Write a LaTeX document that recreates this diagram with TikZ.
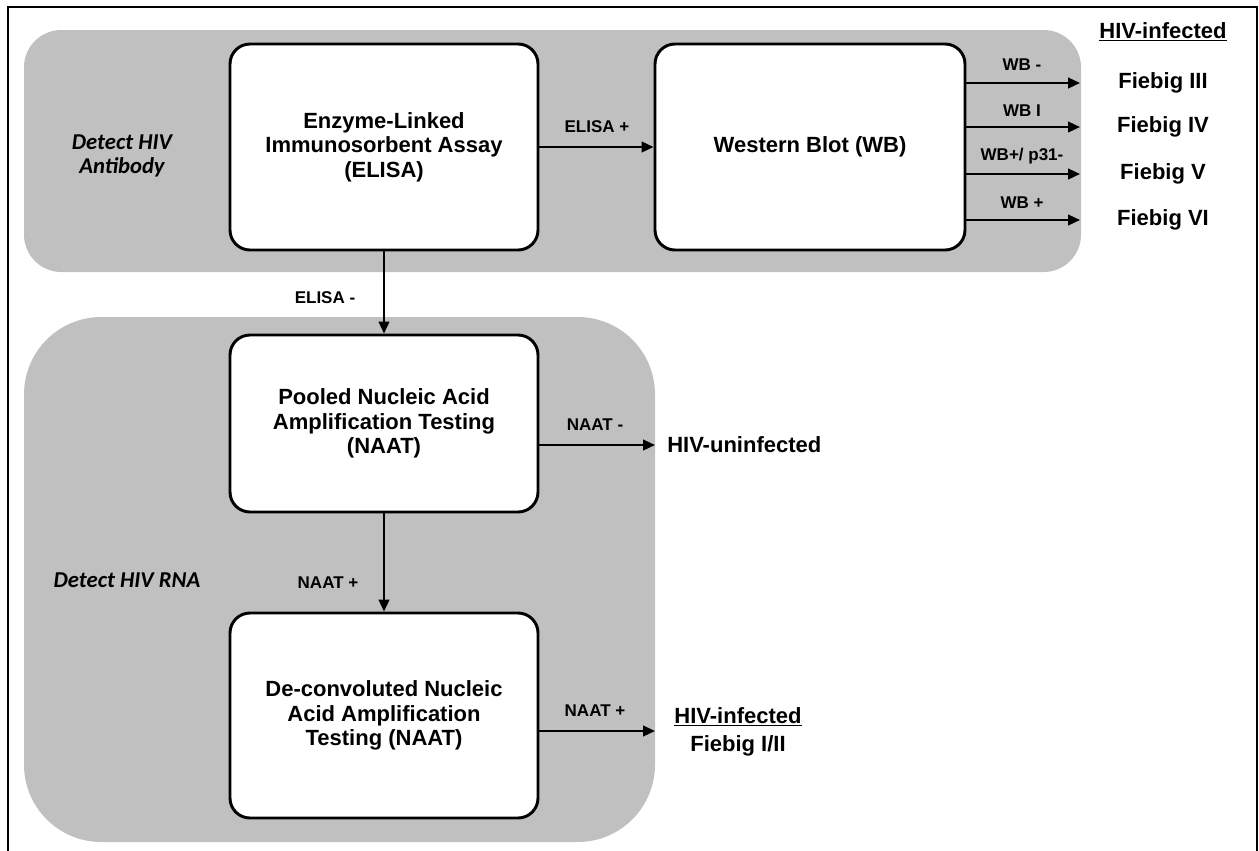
\documentclass[tikz,border=0pt]{standalone}
\usepackage{fontspec}
\setmainfont{Liberation Sans}
\newfontfamily\calfont{Carlito}
\usetikzlibrary{arrows.meta}
\definecolor{regiongray}{RGB}{192,192,192}
\begin{document}
\begin{tikzpicture}[x=0.75pt,y=-0.75pt,
  box/.style={draw=black, fill=white, line width=2.2pt, rounded corners=15pt, align=center,
    font=\bfseries\fontsize{16.5}{18.4}\selectfont, inner sep=0pt},
  arr/.style={-{Triangle[length=9pt,width=8pt]}, line width=1.7pt},
  lbl/.style={font=\bfseries\fontsize{12.75}{15}\selectfont, inner sep=0pt},
  outtxt/.style={font=\bfseries\fontsize{16.5}{21}\selectfont, inner sep=0pt, align=center},
  side/.style={font=\calfont\bfseries\itshape\fontsize{17}{18.5}\selectfont, align=center, inner sep=0pt}]
\useasboundingbox (0,0) rectangle (1259,850);
\fill[white] (0,0) rectangle (1259,850);
\draw[line width=1.5pt] (8,860) -- (8,7) -- (1257,7) -- (1257,860);
% regions
\fill[regiongray, rounded corners=28pt] (24,30) rectangle (1081,272);
\fill[regiongray, rounded corners=58pt] (24,317) rectangle (655,842);
% side labels
\node[side] (sab) at (122,156) {Detect HIV\\Antibody};
\node[side] (srna) at (127,580) {Detect HIV RNA};
% boxes
\node[box, minimum width=231pt, minimum height=154.5pt] (elisa) at (384,147) {Enzyme-Linked\\Immunosorbent Assay\\(ELISA)};
\node[box, minimum width=232.5pt, minimum height=154.5pt] (wb) at (810,147) {Western Blot (WB)};
\node[box, minimum width=231pt, minimum height=132.75pt] (pool) at (384,423.5) {Pooled Nucleic Acid\\Amplification Testing\\(NAAT)};
\node[box, minimum width=231pt, minimum height=153.75pt] (dec) at (384,715.5) {De-convoluted Nucleic\\Acid Amplification\\Testing (NAAT)};
% ELISA arrows
\draw[arr] (elisa.east) -- (wb.west);
\node[lbl] (lep) at (597,127) {ELISA +};
\draw[arr] (elisa.south) -- (pool.north);
\node[lbl] (lem) at (325,298) {ELISA -};
% WB outputs
\coordinate (w1) at (1080,83);
\coordinate (w2) at (1080,127);
\coordinate (w3) at (1080,174);
\coordinate (w4) at (1080,220);
\draw[arr] (wb.east |- w1) -- (w1);
\draw[arr] (wb.east |- w2) -- (w2);
\draw[arr] (wb.east |- w3) -- (w3);
\draw[arr] (wb.east |- w4) -- (w4);
\node[lbl] (l1) at (1022,65) {WB -};
\node[lbl] (l2) at (1022,111) {WB I};
\node[lbl] (l3) at (1022,156) {WB+/ p31-};
\node[lbl] (l4) at (1022,203) {WB +};
\node[outtxt] (hinf) at (1163,32) {\underline{HIV-infected}};
\node[outtxt] (f3) at (1163,83) {Fiebig III};
\node[outtxt] (f4) at (1163,127) {Fiebig IV};
\node[outtxt] (f5) at (1163,174) {Fiebig V};
\node[outtxt] (f6) at (1163,220) {Fiebig VI};
% NAAT arrows
\coordinate (g1) at (655,445);
\draw[arr] (pool.east |- g1) -- (g1);
\node[lbl] (ln1) at (595,425) {NAAT -};
\node[outtxt, anchor=west] (unin) at (667,445) {HIV-uninfected};
\draw[arr] (pool.south) -- (dec.north);
\node[lbl] (ln2) at (328,583) {NAAT +};
\coordinate (g2) at (655,731);
\draw[arr] (dec.east |- g2) -- (g2);
\node[lbl] (ln3) at (595,711) {NAAT +};
\node[outtxt] (inf2) at (738,732) {\underline{HIV-infected}\\Fiebig I/II};
\end{tikzpicture}
\end{document}
